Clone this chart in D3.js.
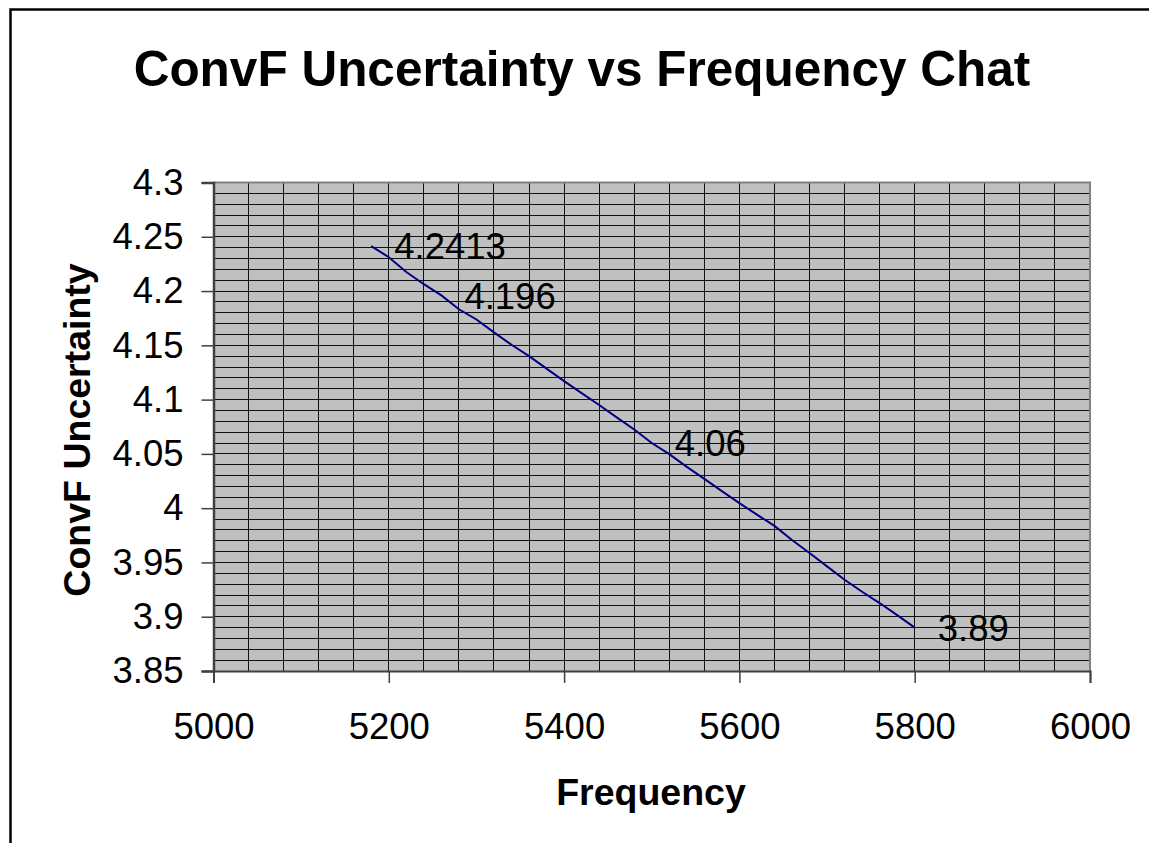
<!DOCTYPE html>
<html>
<head>
<meta charset="utf-8">
<script src="https://cdn.jsdelivr.net/npm/d3@7"></script>
<style>
  html, body { margin: 0; padding: 0; background: #fff; }
  svg { display: block; font-family: "Liberation Sans", Arial, sans-serif; }
</style>
</head>
<body>
<svg id="chart" width="1149" height="843"></svg>
<script>
// ---- data ----
const frequency = [5180, 5200, 5220, 5240, 5260, 5280, 5300, 5320, 5340, 5360, 5380, 5400,
                   5420, 5440, 5460, 5480, 5500, 5520, 5540, 5560, 5580, 5600, 5620, 5640,
                   5660, 5680, 5700, 5720, 5740, 5760, 5780, 5800];
const convF = [4.2413, 4.2312, 4.2176, 4.2063, 4.196, 4.1832, 4.1738, 4.1619, 4.1505, 4.140, 4.1285, 4.117,
               4.106, 4.095, 4.0837, 4.0725, 4.06, 4.0498, 4.038, 4.027, 4.0157, 4.0047, 3.994, 3.9837,
               3.9707, 3.9587, 3.9464, 3.934, 3.923, 3.9126, 3.9015, 3.89];
const labelledFreqs = [5180, 5260, 5500, 5800];
const xTicks = [5000, 5200, 5400, 5600, 5800, 6000];
const yTicks = [3.85, 3.9, 3.95, 4, 4.05, 4.1, 4.15, 4.2, 4.25, 4.3];
const yTickLabels = ["3.85", "3.9", "3.95", "4", "4.05", "4.1", "4.15", "4.2", "4.25", "4.3"];
const titleText = "ConvF Uncertainty vs Frequency Chat";
const xTitle = "Frequency";
const yTitle = "ConvF Uncertainty";

// ---- layout ----
(function () {
const svg = d3.select("#chart");
const pL = 213.5, pR = 1090, pT = 182.5, pB = 671;

const x = d3.scaleLinear().domain([5000, 6000]).range([pL, pR]);
const y = d3.scaleLinear().domain([3.85, 4.3]).range([pB, pT]);

// outer border
svg.append("rect")
  .attr("x", 10.5).attr("y", 9.5).attr("width", 1200).attr("height", 900)
  .attr("fill", "#fff").attr("stroke", "#000").attr("stroke-width", 2.5);

// title
svg.append("text")
  .attr("x", 582).attr("y", 86)
  .attr("text-anchor", "middle")
  .attr("font-size", 49.5).attr("font-weight", "bold")
  .text(titleText);

// plot background
svg.append("rect")
  .attr("x", pL).attr("y", pT).attr("width", pR - pL).attr("height", pB - pT)
  .attr("fill", "#c0c0c0");

// grid
const grid = svg.append("g").attr("shape-rendering", "crispEdges");
grid.selectAll("line.v")
  .data(d3.range(5040, 6000, 40))
  .join("line")
  .attr("x1", d => x(d)).attr("x2", d => x(d))
  .attr("y1", pT).attr("y2", pB)
  .attr("stroke", "#111").attr("stroke-width", 1);
grid.selectAll("line.h")
  .data(d3.range(1, 45).map(i => 3.85 + i * 0.01))
  .join("line")
  .attr("x1", pL).attr("x2", pR)
  .attr("y1", d => y(d)).attr("y2", d => y(d))
  .attr("stroke", "#111").attr("stroke-width", 1);

// plot border top/right
svg.append("path")
  .attr("d", `M${pL},${pT}H${pR}V${pB}`)
  .attr("fill", "none").attr("stroke", "#808080").attr("stroke-width", 2);

// axes
const yAxis = d3.axisLeft(y).tickValues(yTicks)
  .tickFormat((d, i) => yTickLabels[i]).tickSizeOuter(0).tickSize(12).tickPadding(18);
const gy = svg.append("g").attr("transform", `translate(${pL},0)`).call(yAxis);
gy.select(".domain").attr("stroke", "#404040").attr("stroke-width", 2.5);
gy.selectAll(".tick line").attr("stroke", "#404040").attr("stroke-width", 1.5);
gy.selectAll(".tick text").attr("font-size", 36.5).attr("fill", "#000")
  .attr("font-family", "Liberation Sans, Arial, sans-serif");

const xAxis = d3.axisBottom(x).tickValues(xTicks)
  .tickFormat(d3.format("d")).tickSizeOuter(0).tickSize(12).tickPadding(30);
const gx = svg.append("g").attr("transform", `translate(0,${pB})`).call(xAxis);
gx.select(".domain").attr("stroke", "#404040").attr("stroke-width", 2);
gx.selectAll(".tick line").attr("stroke", "#404040").attr("stroke-width", 1.5);
gx.selectAll(".tick text").attr("font-size", 36.5).attr("fill", "#000")
  .attr("font-family", "Liberation Sans, Arial, sans-serif");

// axis titles
svg.append("text")
  .attr("x", 651).attr("y", 805)
  .attr("text-anchor", "middle")
  .attr("font-size", 37.5).attr("font-weight", "bold")
  .text(xTitle);
svg.append("text")
  .attr("transform", `translate(90,430) rotate(-90)`)
  .attr("text-anchor", "middle")
  .attr("font-size", 37.5).attr("font-weight", "bold")
  .text(yTitle);

// line
const pts = frequency.map((f, i) => ({ f, v: convF[i] }));
svg.append("path")
  .datum(pts)
  .attr("d", d3.line().x(d => x(d.f)).y(d => y(d.v)))
  .attr("fill", "none").attr("stroke", "#000080").attr("stroke-width", 2);

// data labels
svg.selectAll("text.dl")
  .data(pts.filter(d => labelledFreqs.includes(d.f)))
  .join("text")
  .attr("class", "dl")
  .attr("x", d => x(d.f) + 23)
  .attr("y", d => y(d.v))
  .attr("dy", "0.36em")
  .attr("font-size", 36.5)
  .text(d => String(d.v));
})();
</script>
</body>
</html>
